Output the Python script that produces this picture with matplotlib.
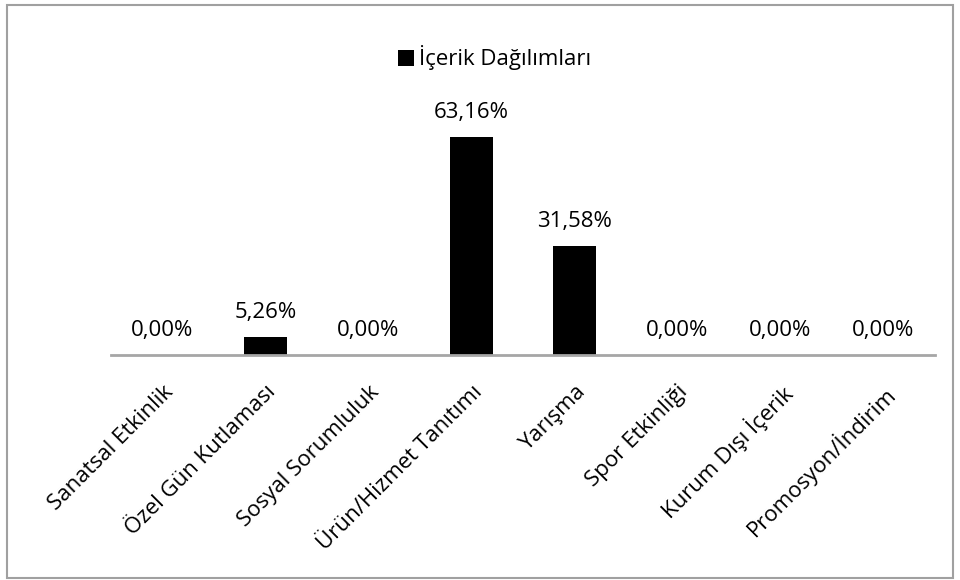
import matplotlib
matplotlib.use("Agg")
import matplotlib.pyplot as plt
from matplotlib.patches import Rectangle

categories = ["Sanatsal Etkinlik", "Özel Gün Kutlaması", "Sosyal Sorumluluk",
              "Ürün/Hizmet Tanıtımı", "Yarışma", "Spor Etkinliği",
              "Kurum Dışı İçerik", "Promosyon/İndirim"]
values = [0.00, 5.26, 0.00, 63.16, 31.58, 0.00, 0.00, 0.00]
series_name = "İçerik Dağılımları"

plt.rcParams['font.family'] = ['Open Sans', 'DejaVu Sans']
FS = 16

fig = plt.figure(figsize=(9.6, 5.8), dpi=100)
ax = fig.add_axes([0.1156, 0.388, 0.974 - 0.1156, 0.805 - 0.388])

x = list(range(len(categories)))
bars = ax.bar(x, values, width=0.42, color='black', label=series_name, zorder=2)
for xi, v in zip(x, values):
    ax.text(xi, v + 4.0, f"{v:.2f}%".replace('.', ','), ha='center', va='bottom',
            fontsize=FS, color='#000000')

ax.set_xlim(-0.5, len(categories) - 0.5)
ax.set_ylim(0, 70)
ax.set_yticks([])
for s in ['top', 'right', 'left']:
    ax.spines[s].set_visible(False)
ax.spines['bottom'].set_color('#a6a6a6')
ax.spines['bottom'].set_linewidth(2)
ax.set_xticks(x)
ax.set_xticklabels(categories, rotation=45, ha='right', rotation_mode='anchor',
                   fontsize=FS)
ax.tick_params(axis='x', length=0, pad=19)

leg = fig.legend(handles=[bars], labels=[series_name], loc='center',
                 bbox_to_anchor=(0.515, 0.90), frameon=False, fontsize=FS,
                 handlelength=0.75, handleheight=0.75, handletextpad=0.2)

fig.patches.append(Rectangle((7 / 960, 2 / 580), 946 / 960, 573 / 580,
                             transform=fig.transFigure, fill=False,
                             edgecolor='#a0a0a0', linewidth=1.5))

fig.savefig("out.png", dpi=100)
